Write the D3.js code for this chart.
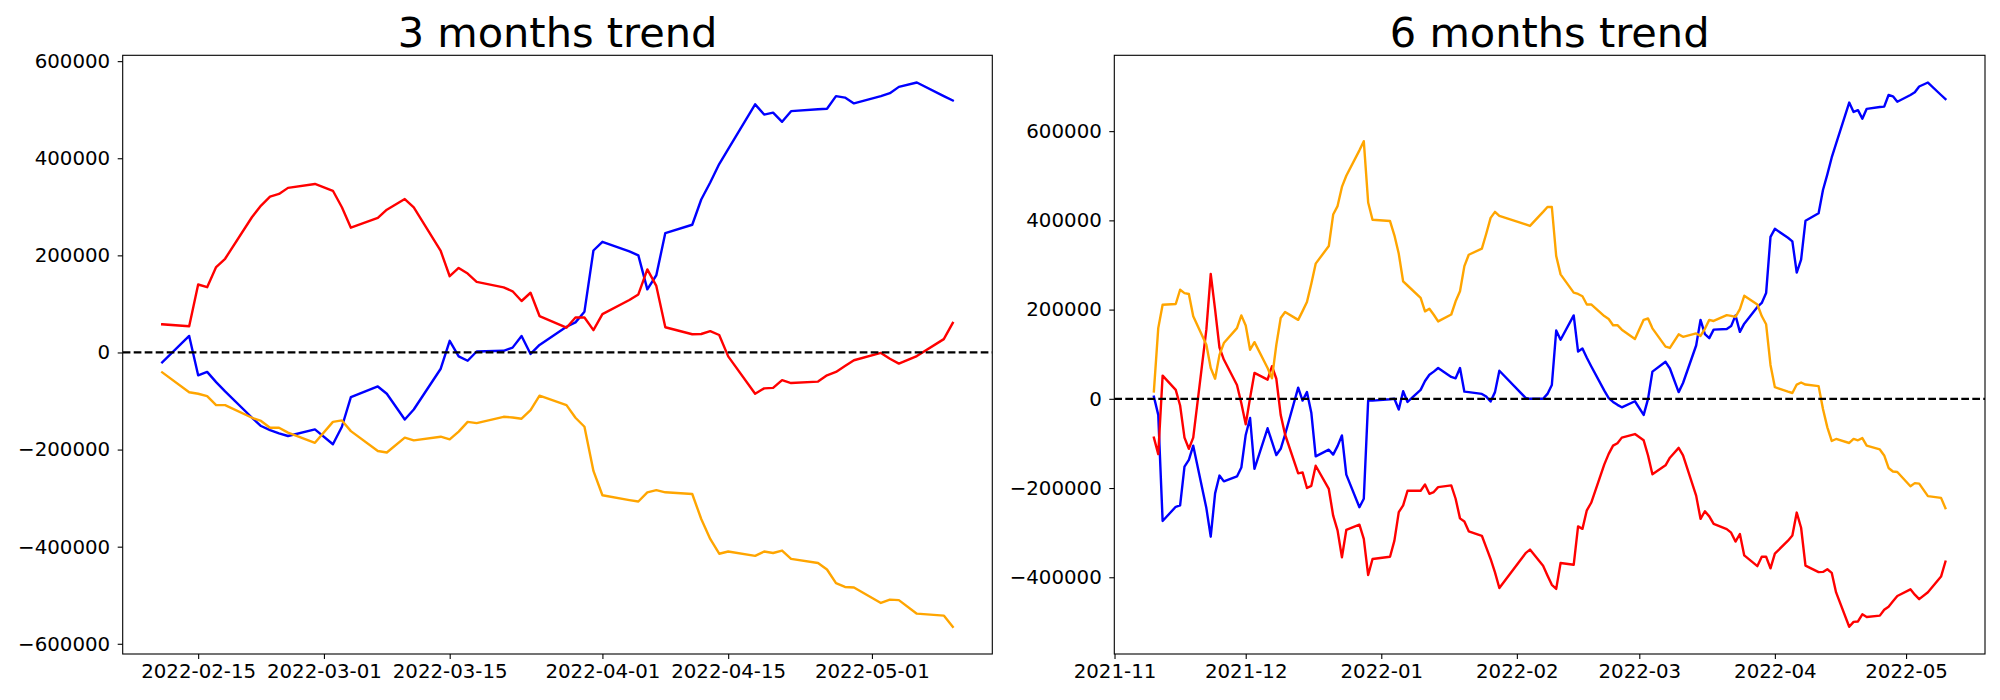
<!DOCTYPE html>
<html><head><meta charset="utf-8">
<script src="https://cdn.jsdelivr.net/npm/d3@7"></script>
<style>
body{margin:0;background:#fff}
svg{display:block}
text{font-family:"DejaVu Sans",sans-serif;fill:#000}
</style>
</head><body>
<svg id="c" width="2000" height="700"></svg>
<script>
// ---------- DATA ----------
const leftDates = ["2022-02-11","2022-02-14","2022-02-15","2022-02-16","2022-02-17","2022-02-18","2022-02-21","2022-02-22","2022-02-23","2022-02-24","2022-02-25","2022-02-28",
"2022-03-02","2022-03-03","2022-03-04","2022-03-07","2022-03-08","2022-03-10","2022-03-11","2022-03-14","2022-03-15","2022-03-16","2022-03-17","2022-03-18","2022-03-21","2022-03-22","2022-03-23","2022-03-24","2022-03-25","2022-03-28","2022-03-29","2022-03-30","2022-03-31",
"2022-04-01","2022-04-04","2022-04-05","2022-04-06","2022-04-07","2022-04-08","2022-04-11","2022-04-12","2022-04-13","2022-04-14","2022-04-15","2022-04-18","2022-04-19","2022-04-20","2022-04-21","2022-04-22","2022-04-25","2022-04-26","2022-04-27","2022-04-28","2022-04-29",
"2022-05-02","2022-05-03","2022-05-04","2022-05-06","2022-05-09","2022-05-10"];

const leftBlue = [-20500,34000,-47000,-40000,-61000,-80000,-134500,-151500,-160000,-166500,-172000,-158500,
-189000,-153000,-92000,-70000,-85000,-138000,-117500,-33500,24000,-8000,-17000,2000,3500,10000,34000,-3000,15500,53000,62000,84000,210000,
228000,208000,200000,130000,159000,246000,263000,315000,350000,388000,419000,511000,490000,494000,475000,497000,501000,502000,528000,525000,513000,
528000,534000,547000,556000,528000,519000];

const leftRed = [58000,54000,140000,134500,176000,193000,279000,302500,321000,326500,339000,347000,
333000,299000,257000,277000,294000,316000,299000,209000,157000,174000,162500,145500,134000,126000,106000,123000,75000,51000,72000,72000,46000,
79000,108000,119500,171000,137000,52000,37500,38000,44000,36000,-8000,-85000,-74000,-73000,-57000,-63000,-60000,-47000,-40000,-28000,-16000,
-1000,-13000,-23000,-7500,27500,61000];

const leftOrange = [-41000,-82000,-85000,-90000,-108500,-108500,-134500,-141000,-155000,-155000,-165000,-186000,
-143000,-140000,-162000,-203000,-206000,-175500,-181000,-173500,-179000,-163000,-143000,-145500,-132500,-134000,-136500,-119000,-89000,-108500,-134500,-153000,-244000,
-294000,-304000,-307000,-288000,-283500,-288000,-291500,-343000,-384000,-414500,-410000,-419000,-410000,-413000,-408000,-425000,-433500,-447000,-475000,-483000,-484000,
-516000,-509000,-510000,-538000,-542000,-565000];

const rightDates = ["2021-11-10","2021-11-11","2021-11-12","2021-11-15","2021-11-16","2021-11-17","2021-11-18","2021-11-19","2021-11-22","2021-11-23","2021-11-24","2021-11-25","2021-11-26","2021-11-29","2021-11-30",
"2021-12-01","2021-12-02","2021-12-03","2021-12-06","2021-12-07","2021-12-08","2021-12-09","2021-12-10","2021-12-13","2021-12-14","2021-12-15","2021-12-16","2021-12-17","2021-12-20","2021-12-21","2021-12-22","2021-12-23","2021-12-24","2021-12-27","2021-12-28","2021-12-29","2021-12-30",
"2022-01-03","2022-01-04","2022-01-05","2022-01-06","2022-01-07","2022-01-10","2022-01-11","2022-01-12","2022-01-13","2022-01-14","2022-01-17","2022-01-18","2022-01-19","2022-01-20","2022-01-21","2022-01-24","2022-01-25","2022-01-26","2022-01-27","2022-01-28",
"2022-02-03","2022-02-04","2022-02-07","2022-02-08","2022-02-09","2022-02-10",
"2022-02-11","2022-02-14","2022-02-15","2022-02-16","2022-02-17","2022-02-18","2022-02-21","2022-02-22","2022-02-23","2022-02-24","2022-02-25","2022-02-28",
"2022-03-02","2022-03-03","2022-03-04","2022-03-07","2022-03-08","2022-03-10","2022-03-11","2022-03-14","2022-03-15","2022-03-16","2022-03-17","2022-03-18","2022-03-21","2022-03-22","2022-03-23","2022-03-24","2022-03-25","2022-03-28","2022-03-29","2022-03-30","2022-03-31",
"2022-04-01","2022-04-04","2022-04-05","2022-04-06","2022-04-07","2022-04-08","2022-04-11","2022-04-12","2022-04-13","2022-04-14","2022-04-15","2022-04-18","2022-04-19","2022-04-20","2022-04-21","2022-04-22","2022-04-25","2022-04-26","2022-04-27","2022-04-28","2022-04-29",
"2022-05-02","2022-05-03","2022-05-04","2022-05-06","2022-05-09","2022-05-10"];

const rightBlue = [5000,-36000,-274000,-242000,-239000,-152000,-137000,-105000,-245000,-309000,-212000,-172000,-185000,-174000,-154000,
-81000,-43000,-157000,-66000,-96000,-126000,-112000,-80000,25000,-4000,15000,-31000,-129000,-114000,-125000,-106000,-82000,-170000,-243000,-224000,-4000,-4000,
-1000,0,-24000,17000,-7000,20000,40000,54000,61000,69000,49000,46000,69000,16000,15000,11000,5000,-6000,15000,63000,
2000,0,0,11000,31000,153000,
132500,187000,106000,113000,92000,73000,18500,1500,-7000,-13500,-19000,-5500,
-36000,0,61000,83000,68000,15000,35500,119500,177000,145000,136000,155000,156500,163000,187000,150000,168500,206000,215000,237000,363000,
381000,361000,353000,283000,312000,399000,416000,468000,503000,541000,572000,664000,643000,647000,628000,650000,654000,655000,681000,678000,666000,
681000,687000,700000,709000,681000,672000];

const rightRed = [-87000,-124000,52000,20000,-15000,-87000,-112000,-87000,155000,280000,200000,115000,88000,31000,-10000,
-57000,2000,58000,43000,73000,45000,-36000,-80000,-167000,-165000,-200000,-195000,-150000,-202000,-262000,-295000,-355000,-294000,-282000,-314000,-395000,-359000,
-354000,-318000,-254000,-239000,-206000,-206000,-192000,-213000,-209000,-198000,-194000,-224000,-268000,-275000,-297000,-307000,-333000,-359000,-389000,-424000,
-346000,-338000,-374000,-396000,-417000,-426000,
-368000,-372000,-286000,-291500,-250000,-233000,-147000,-123500,-105000,-99500,-87000,-79000,
-93000,-127000,-169000,-149000,-132000,-110000,-127000,-217000,-269000,-252000,-263500,-280500,-292000,-300000,-320000,-303000,-351000,-375000,-354000,-354000,-380000,
-347000,-318000,-306500,-255000,-289000,-374000,-388500,-388000,-382000,-390000,-434000,-511000,-500000,-499000,-483000,-489000,-486000,-473000,-466000,-454000,-442000,
-427000,-439000,-449000,-433500,-398500,-365000];

const rightOrange = [16500,158500,211000,212500,244500,237000,235000,185000,121000,69000,45000,98500,125000,158500,187000,
164500,110000,127000,69000,46000,121000,181000,194500,177000,196500,217000,258000,303000,342500,413000,432000,475000,500000,557000,577500,440000,401500,
398500,366500,325000,263000,254000,226000,196000,202000,188500,173500,189000,218500,241000,297500,323000,336500,370000,405500,419000,410000,
391000,387500,419000,430000,430000,320000,
279000,238000,235000,230000,211500,211500,185500,179000,165000,165000,155000,134000,
177000,180000,158000,117000,114000,144500,139000,146500,141000,157000,177000,174500,187500,186000,183500,201000,231000,211500,185500,167000,76000,
26000,16000,13000,32000,36500,32000,28500,-23000,-64000,-94500,-90000,-99000,-90000,-93000,-88000,-105000,-113500,-127000,-155000,-163000,-164000,
-196000,-189000,-190000,-218000,-222000,-245000];

const leftYTicks = [-600000,-400000,-200000,0,200000,400000,600000];
const rightYTicks = [-400000,-200000,0,200000,400000,600000];
const leftXTicks = ["2022-02-15","2022-03-01","2022-03-15","2022-04-01","2022-04-15","2022-05-01"];
const rightXTicks = ["2021-11-01","2021-12-01","2022-01-01","2022-02-01","2022-03-01","2022-04-01","2022-05-01"];
const titles = ["3 months trend","6 months trend"];
const seriesColors = ["#0000ff","#ff0000","#ffa500"];

// ---------- DRAW ----------
const parse = d3.utcParse("%Y-%m-%d");
const svg = d3.select("#c");
const fmtNum = v => (v < 0 ? "\u2212" : "") + Math.abs(v);

function panel(o) {
  const X = o.dates.map(parse);
  const [x0, x1] = d3.extent(X);
  const xm = (x1 - x0) * 0.05;
  const x = d3.scaleUtc().domain([new Date(+x0 - xm), new Date(+x1 + xm)]).range([o.left, o.right]);
  const all = o.series.flat();
  const [y0, y1] = d3.extent(all);
  const ym = (y1 - y0) * 0.05;
  const y = d3.scaleLinear().domain([y0 - ym, y1 + ym]).range([o.bottom, o.top]);

  const g = svg.append("g");
  g.append("clipPath").attr("id", o.id).append("rect")
    .attr("x", o.left).attr("y", o.top).attr("width", o.right - o.left).attr("height", o.bottom - o.top);
  const plot = g.append("g").attr("clip-path", `url(#${o.id})`);

  const line = d3.line().x((d, i) => x(X[i])).y(d => y(d));
  o.series.forEach((s, k) => {
    plot.append("path").attr("d", line(s)).attr("fill", "none")
      .attr("stroke", seriesColors[k]).attr("stroke-width", 2.4)
      .attr("stroke-linejoin", "round").attr("stroke-linecap", "square");
  });
  plot.append("line").attr("x1", o.left).attr("x2", o.right)
    .attr("y1", y(0)).attr("y2", y(0))
    .attr("stroke", "#000").attr("stroke-width", 2.2).attr("stroke-dasharray", "7.7,3.3");

  // frame
  g.append("rect").attr("x", o.left).attr("y", o.top)
    .attr("width", o.right - o.left).attr("height", o.bottom - o.top)
    .attr("fill", "none").attr("stroke", "#000").attr("stroke-width", 1.1);

  const ya = d3.axisLeft(y).tickValues(o.yTicks).tickFormat(fmtNum).tickSize(5).tickPadding(7.5);
  const yg = g.append("g").attr("transform", `translate(${o.left},0)`).call(ya);
  yg.select(".domain").remove();
  yg.selectAll("line").attr("stroke", "#000").attr("stroke-width", 1.1);
  yg.selectAll("text").attr("font-size", 19.8).attr("font-family", "DejaVu Sans").attr("fill", "#000");

  const xa = d3.axisBottom(x).tickValues(o.xTicks.map(parse)).tickFormat(d3.utcFormat(o.xFmt)).tickSize(5).tickPadding(4.8);
  const xg = g.append("g").attr("transform", `translate(0,${o.bottom})`).call(xa);
  xg.select(".domain").remove();
  xg.selectAll("line").attr("stroke", "#000").attr("stroke-width", 1.1);
  xg.selectAll("text").attr("font-size", 19.8).attr("font-family", "DejaVu Sans").attr("fill", "#000");

  g.append("text").attr("x", (o.left + o.right) / 2).attr("y", o.top - 8.3)
    .attr("text-anchor", "middle").attr("font-size", 41.5).text(o.title);
}

panel({id: "clipL", left: 122.7, right: 992.3, top: 55.3, bottom: 654, title: titles[0],
  dates: leftDates, series: [leftBlue, leftRed, leftOrange], yTicks: leftYTicks, xTicks: leftXTicks, xFmt: "%Y-%m-%d"});
panel({id: "clipR", left: 1114.3, right: 1985, top: 55.3, bottom: 654, title: titles[1],
  dates: rightDates, series: [rightBlue, rightRed, rightOrange], yTicks: rightYTicks, xTicks: rightXTicks, xFmt: "%Y-%m"});
</script>
</body></html>
